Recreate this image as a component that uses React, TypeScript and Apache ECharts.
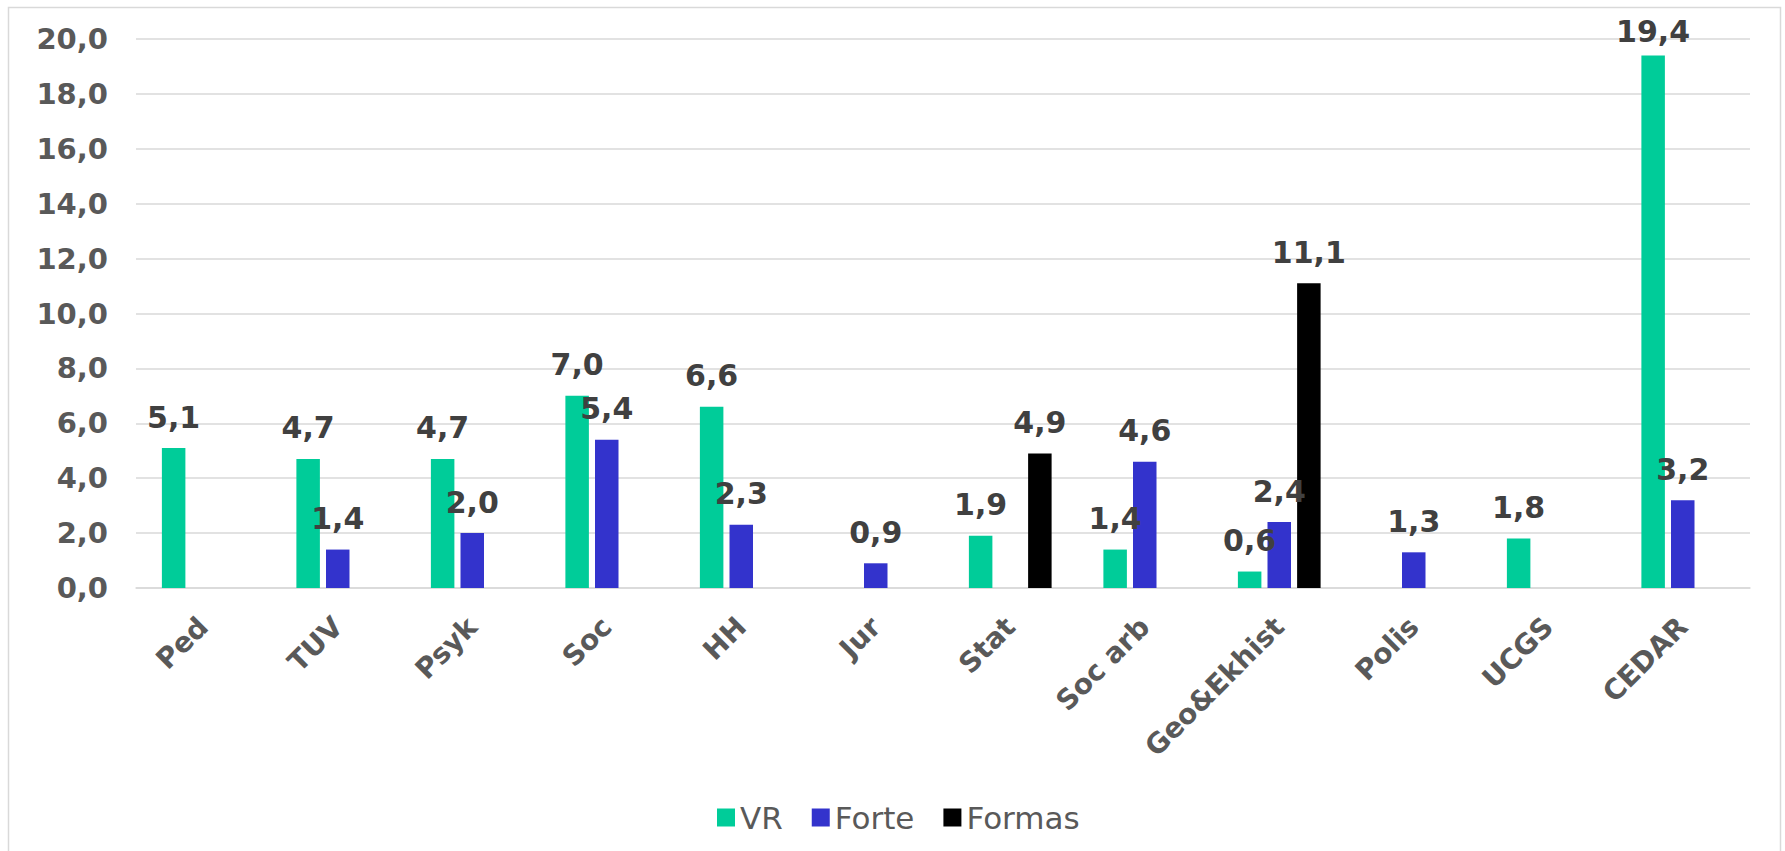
import React, { useEffect, useRef } from "react";
import * as echarts from "echarts";

const categories = ["Ped", "TUV", "Psyk", "Soc", "HH", "Jur", "Stat", "Soc arb", "Geo&Ekhist", "Polis", "UCGS", "CEDAR"];
const vrValues = [5.1, 4.7, 4.7, 7.0, 6.6, null, 1.9, 1.4, 0.6, null, 1.8, 19.4];
const forteValues = [null, 1.4, 2.0, 5.4, 2.3, 0.9, null, 4.6, 2.4, 1.3, null, 3.2];
const formasValues = [null, null, null, null, null, null, 4.9, null, 11.1, null, null, null];
const seriesNames = ["VR", "Forte", "Formas"];
const seriesColors = ["#00CC99", "#3333CC", "#000000"];
const yMin = 0;
const yMax = 20;
const yInterval = 2;

const fmt = (v: number) => v.toFixed(1).replace(".", ",");
const FONT = "DejaVu Sans";

export default function App() {
  const ref = useRef<HTMLDivElement>(null);
  useEffect(() => {
    if (!ref.current) return;
    const chart = echarts.init(ref.current, null, { renderer: "svg" });
    const dataSets = [vrValues, forteValues, formasValues];
    chart.setOption({
      animation: false,
      backgroundColor: "#ffffff",
      graphic: [
        {
          type: "rect",
          shape: { x: 8.5, y: 7.5, width: 1772, height: 900 },
          style: { fill: "none", stroke: "#d9d9d9", lineWidth: 1.5 },
          silent: true,
          z: -10,
        },
      ],
      grid: { left: 136, right: 35, top: 39, bottom: 263, containLabel: false },
      legend: {
        data: seriesNames,
        left: 712,
        top: 797,
        icon: "rect",
        itemWidth: 18,
        itemHeight: 18,
        itemGap: 29,
        textStyle: { fontFamily: FONT, fontSize: 31, color: "#595959" },
      },
      xAxis: {
        type: "category",
        data: categories,
        axisLine: { show: true, lineStyle: { color: "#d9d9d9", width: 1.5 } },
        axisTick: { show: false },
        axisLabel: {
          interval: 0,
          rotate: 45,
          margin: 34,
          fontFamily: FONT,
          fontSize: 28,
          fontWeight: "bold",
          color: "#595959",
        },
      },
      yAxis: {
        type: "value",
        min: yMin,
        max: yMax,
        interval: yInterval,
        axisLine: { show: false },
        axisTick: { show: false },
        splitLine: { lineStyle: { color: "#d9d9d9", width: 1.5 } },
        axisLabel: {
          margin: 28,
          fontFamily: FONT,
          fontSize: 29,
          fontWeight: "bold",
          color: "#595959",
          formatter: (v: number) => fmt(v),
        },
      },
      series: seriesNames.map((name, i) => ({
        name,
        type: "bar",
        data: dataSets[i].map((v) =>
          v != null && v > yMax - 1 ? { value: v, label: { distance: 9 } } : v
        ),
        barWidth: 23.5,
        barGap: "26%",
        itemStyle: { color: seriesColors[i] },
        label: {
          show: true,
          position: "top",
          distance: 16,
          fontFamily: FONT,
          fontSize: 30,
          fontWeight: "bold",
          color: "#404040",
          formatter: (p: any) => (p.value == null ? "" : fmt(p.value)),
        },
      })),
    });
    return () => chart.dispose();
  }, []);
  return (
    <div
      ref={ref}
      style={{ position: "fixed", left: 0, top: 0, width: 1785, height: 851 }}
    />
  );
}
